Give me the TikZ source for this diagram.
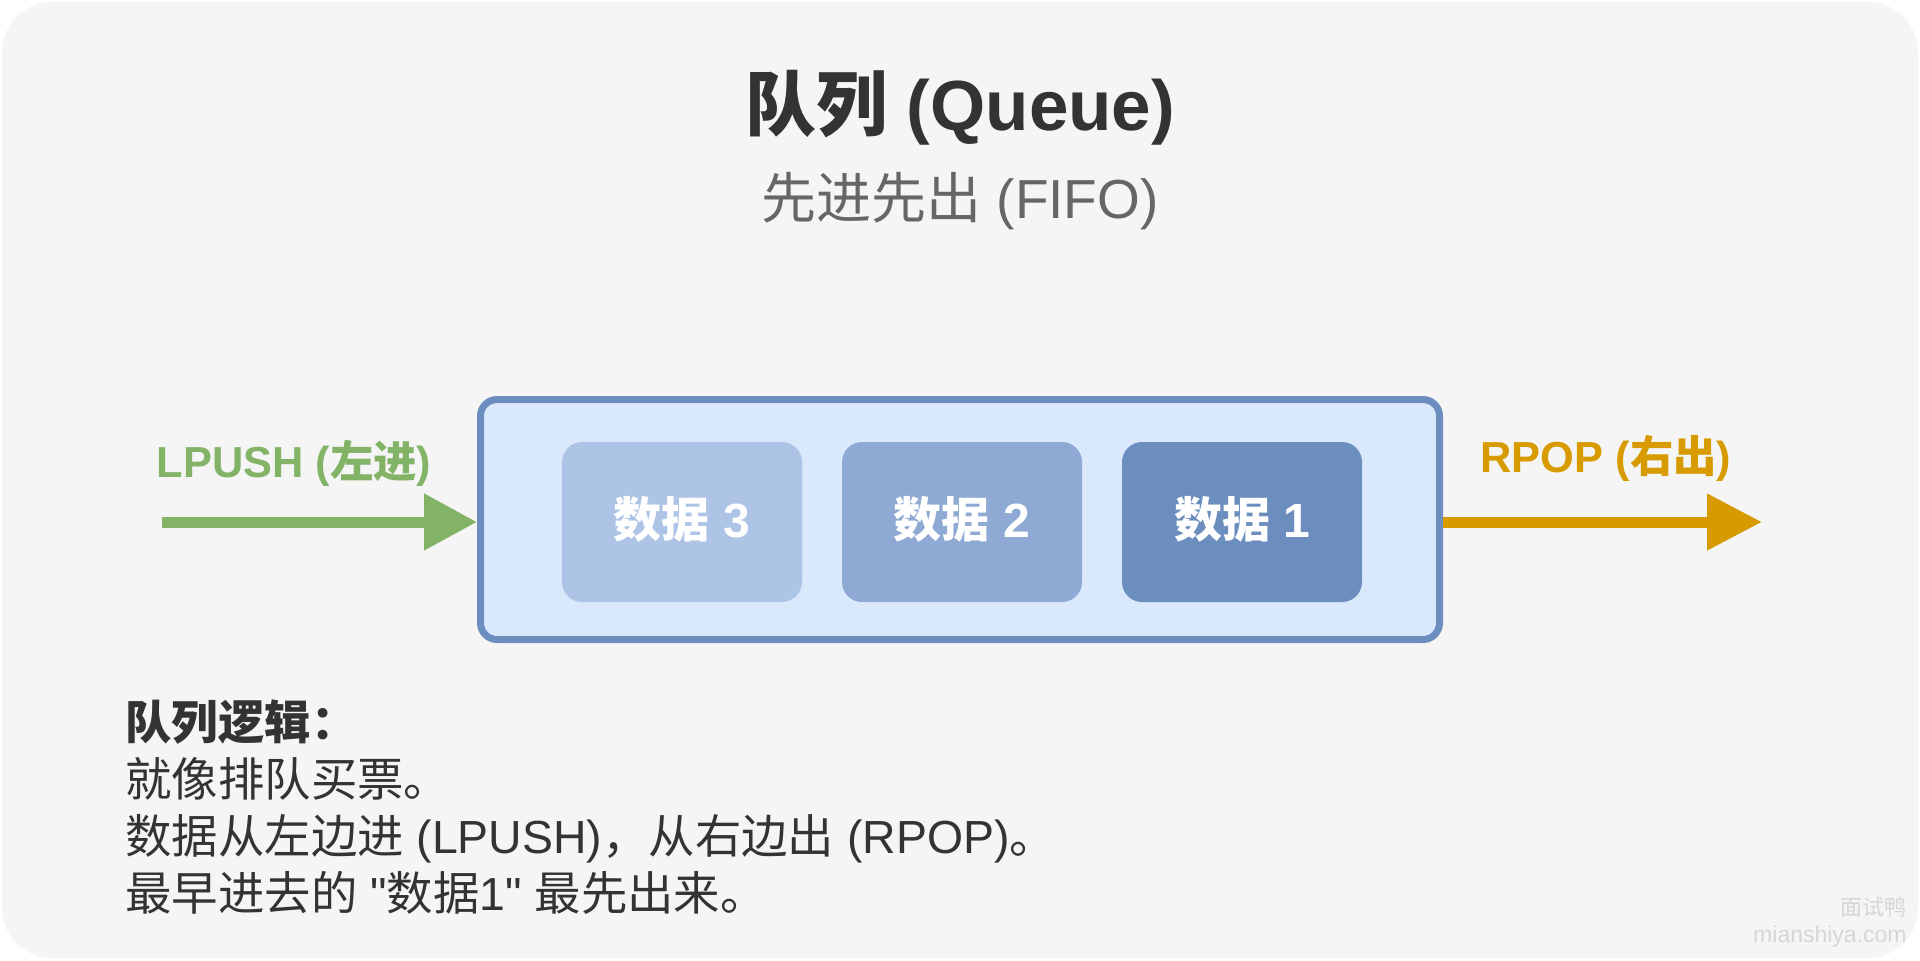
\documentclass[tikz,border=0pt]{standalone}
\usepackage{fontspec}
\setmainfont{Liberation Sans}[Ligatures=TeXOff]
\newfontfamily\cjk{Noto Sans CJK SC}
\usetikzlibrary{arrows.meta}
\definecolor{bgc}{HTML}{F5F5F5}
\definecolor{titlec}{HTML}{333333}
\definecolor{subc}{HTML}{666666}
\definecolor{pushc}{HTML}{82B366}
\definecolor{popc}{HTML}{D79B00}
\definecolor{qfill}{HTML}{DAE8FC}
\definecolor{qdraw}{HTML}{6C8EBF}
\definecolor{dthree}{HTML}{AEC4E6}
\definecolor{dtwo}{HTML}{8EA9D3}
\definecolor{done}{HTML}{6C8EBF}
\definecolor{wmc}{HTML}{D6D6D6}
\begin{document}
\begin{tikzpicture}[x=0.5pt,y=-0.5pt,
  databox/.style={rectangle, rounded corners=10pt, draw=none, inner sep=0pt,
    minimum width=120pt, minimum height=80pt, text=white,
    font=\fontsize{24}{28}\selectfont\bfseries, text height=18pt, text depth=3pt},
  bodytext/.style={anchor=base west, inner sep=0pt, text=titlec,
    font=\fontsize{23.2}{28}\selectfont},
  oplabel/.style={anchor=base, inner sep=0pt, font=\fontsize{21.7}{26}\selectfont\bfseries},
  bigarrow/.style={line width=5.5pt}
]
\useasboundingbox (0,0) rectangle (1920,960);
\fill[white] (0,0) rectangle (1920,960);
\fill[bgc, rounded corners=25pt] (2,2) rectangle (1918,958);

% titles
\node[anchor=base, inner sep=0pt, text=titlec, font=\fontsize{35.5}{40}\selectfont\bfseries]
  (title) at (960,130) {{\cjk 队列} (Queue)};
\node[anchor=base, inner sep=0pt, text=subc, font=\fontsize{27.5}{32}\selectfont]
  (sub) at (960,218) {{\cjk 先进先出} (FIFO)};

% queue container
\node[rectangle, rounded corners=8.25pt, draw=qdraw, fill=qfill, line width=3.5pt,
  minimum width=479.5pt, minimum height=120pt, inner sep=0pt] (q) at (960,519.5) {};

% data boxes
\node[databox, fill=dthree] (d3) at (682,522) {{\cjk 数据} 3};
\node[databox, fill=dtwo]   (d2) at (962,522) {{\cjk 数据} 2};
\node[databox, fill=done]   (d1) at (1242,522) {{\cjk 数据} 1};

% arrows
\coordinate (ls) at (162,522);
\coordinate (re) at (1762,522);
\draw[bigarrow, pushc, -{Triangle[length=26.5pt,width=27pt]}] (ls) -- (ls -| q.west);
\draw[bigarrow, popc, -{Triangle[length=27.5pt,width=27pt]}] (re -| q.east) -- (re);

\node[oplabel, text=pushc] (lpush) at (294,477) {LPUSH ({\cjk 左进})};
\node[oplabel, text=popc]  (rpop)  at (1606,472) {RPOP ({\cjk 右出})};

% explanation
\node[bodytext, font=\fontsize{23.2}{28}\selectfont\bfseries] (l1) at (125,739) {{\cjk 队列逻辑：}};
\node[bodytext] (l2) at (125,796) {{\cjk 就像排队买票。}};
\node[bodytext] (l3) at (125,853) {{\cjk 数据从左边进} (LPUSH){\cjk ，从右边出} (RPOP){\cjk 。}};
\node[bodytext] (l4) at (125,910) {{\cjk 最早进去的} "{\cjk 数据}1" {\cjk 最先出来。}};

% watermark
\node[anchor=base east, inner sep=0pt, text=wmc, font=\fontsize{11}{13}\selectfont]
  (wm1) at (1907,915) {{\cjk 面试鸭}};
\node[anchor=base east, inner sep=0pt, text=wmc, font=\fontsize{11.5}{13}\selectfont]
  (wm2) at (1907,942) {mianshiya.com};
\end{tikzpicture}
\end{document}
